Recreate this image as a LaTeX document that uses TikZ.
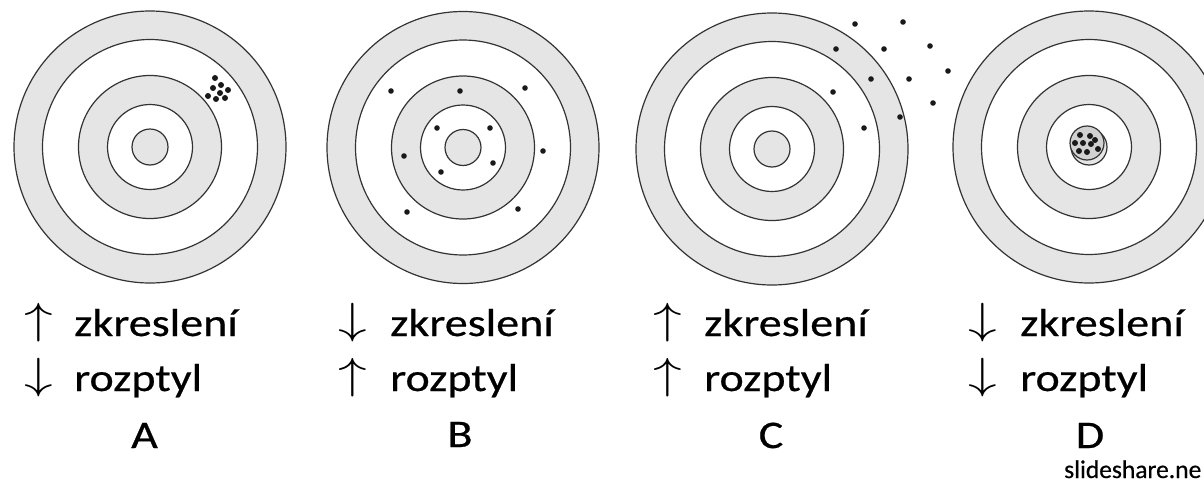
\documentclass[tikz,border=0pt]{standalone}
\usepackage{fontspec}
\setmainfont{Carlito}
\newfontfamily\heavyfont{Carlito}[FakeBold=0.5]
\usepackage{graphicx}
\tikzset{
  ringline/.style={draw=black!80, line width=1.2pt},
  hit/.style={fill=black!90, draw=none},
  word/.style={anchor=base west, inner sep=0pt, font=\heavyfont\fontsize{39}{46}\selectfont},
  arrowsym/.style={anchor=base west, inner sep=0pt},
  letter/.style={anchor=base, inner sep=0pt, font=\heavyfont\fontsize{39}{46}\selectfont},
  credit/.style={anchor=base west, inner sep=0pt, font=\heavyfont\fontsize{25.5}{30}\selectfont},
  target/.pic={
    \fill[black!10] (0,0) circle[radius=136];
    \fill[white] (0,0) circle[radius=107.5];
    \fill[black!10] (0,0) circle[radius=71.5];
    \fill[white] (0,0) circle[radius=42.5];
    \fill[black!10] (0,0) circle[radius=18];
    \foreach \r in {136,107.5,71.5,42.5,18} {\draw[ringline] (0,0) circle[radius=\r];}
  }
}
\newcommand{\myup}{\scalebox{2.3}[1.75]{\fontsize{24.88}{30}\selectfont$\uparrow$}}
\newcommand{\mydn}{\scalebox{2.3}[1.75]{\fontsize{24.88}{30}\selectfont$\downarrow$}}
\newcommand{\stw}[1]{\scalebox{1.18}[1]{#1}}
\begin{document}
\begin{tikzpicture}[x=1pt,y=-1pt]
\useasboundingbox (0,0) rectangle (1204,482);
\fill[white] (0,0) rectangle (1204,482);
\begin{scope}
\clip (0,0) rectangle (1204,482);
% targets
\pic at (150,147) {target};
\pic at (463,147.5) {target};
\pic at (772,149) {target};
\pic at (1089,147) {target};
% A cluster
\foreach \p in {(215,78),(221,85),(213,88),(228,90),(220,93),(208,96),(216,99),(225,98)}
  \fill[hit] \p circle[radius=3];
% B dots
\foreach \p in {(391,91),(460,91),(525,88),(437,128),(490,128),(404,156),(543,151),(441,172),(493,163),(407,212),(518,209)}
  \fill[hit] \p circle[radius=2.8];
% C dots
\foreach \p in {(855,24),(903,22),(836,49),(884,49),(930,46),(948,71),(871,79),(909,79),(833,92),(933,103),(900,117),(864,128)}
  \fill[hit] \p circle[radius=2.8];
% D cluster
\fill[black!18] (1087,143) circle[radius=17];
\foreach \p in {(1080,135),(1090,136),(1075,143),(1083,143),(1095,140),(1079,151),(1087,152),(1098,149),(1091,144)}
  \fill[hit] \p circle[radius=3];
\draw[ringline] (1087,143) circle[radius=17];
\end{scope}
% labels A
\node[arrowsym] (aA1) at (24,333) {\myup};
\node[word] (wA1) at (74,336) {\stw{zkreslení}};
\node[arrowsym] (aA2) at (24,388) {\mydn};
\node[word] (wA2) at (74,391) {\stw{rozptyl}};
\node[letter] (lA) at (144.5,448) {\stw{A}};
% labels B
\node[arrowsym] (aB1) at (338,333) {\mydn};
\node[word] (wB1) at (390,336) {\stw{zkreslení}};
\node[arrowsym] (aB2) at (338,388) {\myup};
\node[word] (wB2) at (390,391) {\stw{rozptyl}};
\node[letter] (lB) at (460,447) {\stw{B}};
% labels C
\node[arrowsym] (aC1) at (653,333) {\myup};
\node[word] (wC1) at (704,336) {\stw{zkreslení}};
\node[arrowsym] (aC2) at (653,388) {\myup};
\node[word] (wC2) at (704,391) {\stw{rozptyl}};
\node[letter] (lC) at (771,448) {\stw{C}};
% labels D
\node[arrowsym] (aD1) at (968,333) {\mydn};
\node[word] (wD1) at (1020,336) {\stw{zkreslení}};
\node[arrowsym] (aD2) at (968,388) {\mydn};
\node[word] (wD2) at (1020,391) {\stw{rozptyl}};
\node[letter] (lD) at (1090,448) {\stw{D}};
\node[credit] (src) at (1064,478) {slideshare.ne};
\end{tikzpicture}
\end{document}
